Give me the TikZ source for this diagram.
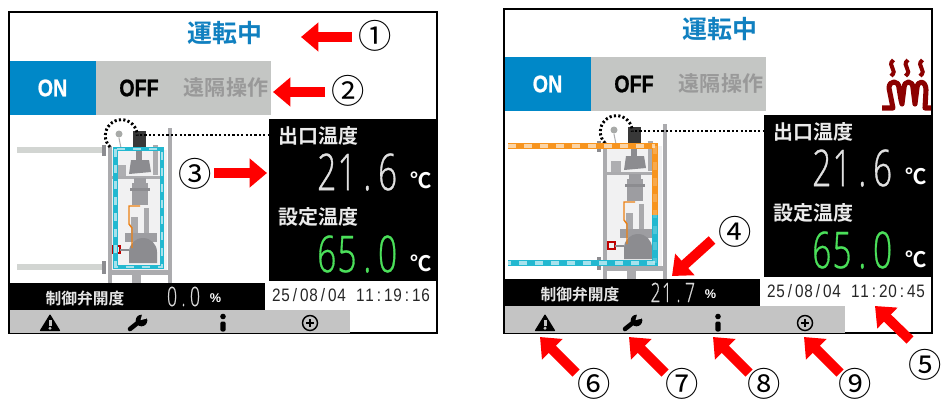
\documentclass[tikz,border=0pt]{standalone}
\usepackage{fontspec}
\usetikzlibrary{arrows.meta}
\newfontfamily\jp{Noto Sans CJK JP}[BoldFont={* Bold}]
\newfontfamily\dgfont[FakeStretch=.66,FakeBold=.6]{Open Sans Light}
\newfontfamily\onfont[FakeStretch=.82,FakeBold=.8]{Liberation Sans Bold}
\newfontfamily\timefont[FakeStretch=.85]{Liberation Sans}
\newfontfamily\unitfont{Liberation Sans}
\definecolor{scrblue}{HTML}{0088C8}
\definecolor{titleblue}{HTML}{1080C0}
\definecolor{bargray}{HTML}{C4C6C4}
\definecolor{tbgray}{HTML}{C4C4C4}
\definecolor{txtgray}{HTML}{999999}
\definecolor{framegray}{HTML}{ABABAE}
\definecolor{bodygray}{HTML}{8C8C90}
\definecolor{pipegray}{HTML}{D2D5D2}
\definecolor{cyanpipe}{HTML}{22B8D0}
\definecolor{orangepipe}{HTML}{F7941E}
\definecolor{heatred}{HTML}{8B0000}
\definecolor{setgreen}{HTML}{4BE05A}
\definecolor{arrowred}{HTML}{FF0000}
\makeatletter
\newcommand\spc[2]{\@tfor\tmpc:=#2\do{\makebox[#1][c]{\tmpc}}}
\makeatother
\tikzset{
  x=0.75pt,y=-0.75pt,
  redarrow/.style={draw=arrowred,line width=7.5pt,-{Triangle[length=13pt,width=21pt]}},
  circnum/.style={font=\jp\fontsize{25}{25}\selectfont,inner sep=0pt},
  screenframe/.style={draw=black,line width=1.3pt,fill=white},
  lab/.style={font=\jp\bfseries\fontsize{15}{15}\selectfont,text=white!92!black,inner sep=0pt},
  pipeflow/.style={line width=5pt},
  pipewhite/.style={draw=white,opacity=.6,line width=2.6pt,dash pattern=on 6pt off 6pt},
  dotline/.style={draw=black,line width=2.2pt,dash pattern=on 1.6pt off 1.7pt},
  txt/.style={inner sep=0pt},
}
% shared contents of a screen
\newcommand\screen[5]{%
  % #1 opening text, #2 date, #3 time, #4 bar end, #5 icon y
  \fill[scrblue] (10,61) rectangle (96,115);
  \fill[bargray] (96,61) rectangle (271,115);
  \node[txt,text=titleblue,font=\jp\bfseries\fontsize{18.7}{19}\selectfont] (title) at (225,33) {運転中};
  \node[txt,text=white,font=\onfont\fontsize{18}{18}\selectfont] (on) at (52.5,88) {ON};
  \node[txt,text=black,font=\onfont\fontsize{18}{18}\selectfont] (off) at (139,88) {OFF};
  \node[txt,text=txtgray,font=\jp\bfseries\fontsize{15.8}{16}\selectfont] (remote) at (226,88) {遠隔操作};
  % temperature panel
  \fill[black] (269,119) rectangle (437,281);
  \node[lab,anchor=west] (outlbl) at (278,136) {出口温度};
  \node[txt,anchor=east,text=white!88!black,font=\dgfont\fontsize{38}{38}\selectfont] (outval) at (398,172) {\spc{15.2pt}{21.6}};
  \node[txt,text=white,font=\jp\bfseries\fontsize{16}{16}\selectfont] (outunit) at (421,180) {℃};
  \node[lab,anchor=west] (setlbl) at (278,217) {設定温度};
  \node[txt,anchor=east,text=setgreen,font=\dgfont\fontsize{38}{38}\selectfont] (setval) at (398,254) {\spc{15.2pt}{65.0}};
  \node[txt,text=white,font=\jp\bfseries\fontsize{16}{16}\selectfont] (setunit) at (421,263) {℃};
  % valve opening bar
  \fill[black] (10,283) rectangle (265,310);
  \node[txt,text=white!90!black,font=\jp\bfseries\fontsize{11.8}{12}\selectfont] (openlbl) at (85,298) {制御弁開度};
  \node[txt,anchor=east,text=white!85!black,font=\dgfont\fontsize{20}{20}\selectfont] (openval) at (201,296.5) {\spc{8.6pt}{#1}};
  \node[txt,text=white,font=\unitfont\bfseries\fontsize{9.5}{10}\selectfont] (openunit) at (215.5,298) {\%};
  \node[txt,text=black!85,font=\timefont\fontsize{13.5}{14}\selectfont] (clock) at (351,295) {\spc{7pt}{#2}\hspace{7pt}\spc{7pt}{#3}};
  % toolbar
  \fill[tbgray] (10,310) rectangle (350,#4);
  \begin{scope}
    \clip (10,310) rectangle (350,#4);
    \begin{scope}[shift={(50,#5)}]
      \fill[black,rounded corners=.6pt] (0,-9) -- (10.5,8) -- (-10.5,8) -- cycle;
      \fill[tbgray] (-1.5,-3.5) rectangle (1.5,2.8);
      \fill[tbgray] (0,5.2) circle (1.7);
    \end{scope}
    \begin{scope}[shift={(137,#5)}]
      \draw[black,line width=3.4pt,line cap=round] (-7,6) -- (3,-2);
      \fill[black] (4.5,-2.5) circle (5.8);
      \fill[tbgray] (3.5,-2.8) -- (11.5,-5) -- (5.5,-10) -- cycle;
    \end{scope}
    \begin{scope}[shift={(223,#5)}]
      \fill[black] (0,-6.5) circle (2.8);
      \fill[black,rounded corners=1.5pt] (-2.7,-1.5) rectangle (2.7,8.5);
    \end{scope}
    \begin{scope}[shift={(310,#5)}]
      \draw[black,line width=1.1pt] (0,0) circle (7.5);
      \draw[black,line width=1.1pt] (-4,0) -- (4,0) (0,-4) -- (0,4);
    \end{scope}
  \end{scope}
  % process unit
  \draw[pipegray,line width=3.8pt] (17,150) -- (104,150);
  \draw[pipegray,line width=3.8pt] (17,267) -- (104,267);
  \fill[bodygray] (102,145) rectangle (106,156);
  \fill[bodygray] (102,261) rectangle (106,274);
  \fill[bodygray!12] (112,150) rectangle (167,270);
  \fill[framegray] (108,146) rectangle (112,283);
  \fill[framegray] (167.5,128) rectangle (172,283);
  \fill[framegray] (108,270) rectangle (172,275);
  \fill[framegray] (132,275) rectangle (141,283);
  \fill[framegray] (108,176) rectangle (163,179);
  \fill[framegray] (153,145) rectangle (158,175);
  \fill[bodygray!70] (116,165) rectangle (126,176);
  \draw[bodygray!70,line width=.8pt] (119,138) -- (121,148);
  \fill[pipegray!80!black] (119,134) circle (3.5);
  \fill[black!78] (133,131) rectangle (146,148);
  \fill[bodygray] (136,149) rectangle (142,160);
  \fill[bodygray] (131,160) -- (149,160) -- (151,172) -- (129,174) -- cycle;
  \fill[bodygray!85] (132,183) rectangle (148,205);
  \fill[bodygray] (130,188) rectangle (150,191);
  \fill[bodygray!85] (134,178) rectangle (146,183);
  \fill[bodygray!85] (125,233) rectangle (157,242);
  \fill[bodygray!75] (131,217) rectangle (138,233);
  \fill[bodygray!75] (144,208) rectangle (149,233);
  \fill[bodygray] (129,252) arc[start angle=180,end angle=360,radius=14] -- (157,263) -- (129,263) -- cycle;
  \draw[orange!70!brown,line width=1.1pt] (140,206) -- (129,206) -- (129,224) -- (132,228) -- (132,248);
  \draw[red!75!black,line width=.8pt] (113,246) rectangle (120,253);
  \draw[bodygray,line width=1pt] (120,250) -- (129,250);
  % sensor callout
  \coordinate (arcstart) at (110,147);
  \draw[dotline] (arcstart) arc[start angle=135,end angle=360,radius=16];
  \coordinate (dotstart) at (140,135);
  \coordinate (dotend) at (269,135);
  \draw[dotline] (dotstart) -- (dotend);
}
\begin{document}
\begin{tikzpicture}
\useasboundingbox (0,0) rectangle (943,400);
\fill[white] (0,0) rectangle (943,400);
% left screen
\draw[screenframe] (9,12) rectangle (437,333);
\begin{scope}[name prefix=L-]
  \screen{0.0}{25/08/04}{11:19:16}{333}{323}
  \draw[cyanpipe,line width=3.6pt] (115.5,149) rectangle (162,267);
  \draw[pipewhite,line width=1.8pt] (115.5,149) rectangle (162,267);
\end{scope}
% right screen
\draw[screenframe] (504,9) rectangle (932,333);
\begin{scope}[shift={(495,-4)},name prefix=R-]
  \screen{21.7}{25/08/04}{11:20:45}{337}{327}
\end{scope}
\coordinate (orA) at (508,146);
\coordinate (orB) at (655,146);
\coordinate (orC) at (655,215);
\coordinate (cyB) at (655,263);
\coordinate (cyA) at (508,263);
\draw[orangepipe,pipeflow] (orA) -- (orB) -- (orC);
\draw[cyanpipe,pipeflow] (orC) -- (cyB) -- (cyA);
\draw[pipewhite] (orA) -- (orB);
\draw[pipewhite] (cyB) -- (cyA);
\draw[pipewhite,opacity=.2] (orB) -- (cyB);
% heater icon
\begin{scope}[heatred]
  \foreach \hx in {892,906.5,921}
    \draw[line width=3pt] (\hx+1.5,60) .. controls (\hx-6,66) and (\hx+7,70) .. (\hx-1,76);
  \draw[line width=3.8pt,line join=round] (882,108) -- (893,108) -- (889,88) .. controls (889,80) and (899,80) .. (899,88)
    -- (901,100) -- (902,104) -- (904,88) .. controls (904,80) and (913,80) .. (913,88)
    -- (915,104) -- (917,88) .. controls (917,80) and (926,80) .. (926,90) -- (925,108) -- (931,108);
\end{scope}
% callout arrows
\node[circnum] (n1) at (375,36) {①};
\node[circnum] (n2) at (348,91) {②};
\node[circnum] (n3) at (195,174) {③};
\node[circnum] (n4) at (735,232) {④};
\node[circnum] (n5) at (925,365) {⑤};
\node[circnum] (n6) at (594,384) {⑥};
\node[circnum] (n7) at (682,384) {⑦};
\node[circnum] (n8) at (764,384) {⑧};
\node[circnum] (n9) at (855,384) {⑨};
\coordinate (t1) at (352,37); \coordinate (h1) at (301,37);
\coordinate (t2) at (325,92); \coordinate (h2) at (273,92);
\coordinate (t3) at (214,173); \coordinate (h3) at (267,173);
\coordinate (t4) at (712,240); \coordinate (h4) at (672,276);
\coordinate (t5) at (910,340); \coordinate (h5) at (875,306);
\coordinate (t6) at (576,373); \coordinate (h6) at (540,337);
\coordinate (t7) at (665,373); \coordinate (h7) at (629,337);
\coordinate (t8) at (749,373); \coordinate (h8) at (713,337);
\coordinate (t9) at (840,373); \coordinate (h9) at (804,337);
\foreach \i in {1,...,9} \draw[redarrow] (t\i) -- (h\i);
\end{tikzpicture}
\end{document}
